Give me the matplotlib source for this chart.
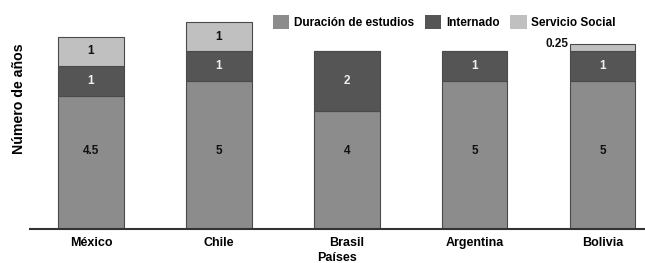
import matplotlib
matplotlib.use("Agg")
import matplotlib.pyplot as plt
import numpy as np

plt.rcParams['font.family'] = ['Liberation Sans', 'DejaVu Sans']
plt.rcParams['font.weight'] = 'bold'

countries = ["México", "Chile", "Brasil", "Argentina", "Bolivia"]
estudios = [4.5, 5, 4, 5, 5]
internado = [1, 1, 2, 1, 1]
servicio = [1, 1, 0, 0, 0.25]
series_names = ["Duración de estudios", "Internado", "Servicio Social"]
colors = ["#8c8c8c", "#555555", "#c0c0c0"]
text_colors = ["#111111", "#f0f0f0", "#111111"]

fig = plt.figure(figsize=(6.45, 2.63), dpi=100)
ax = fig.add_axes([30/645, 34/263, 1 - 30/645, 1 - 34/263])

x = np.arange(len(countries))
bottom = np.zeros(len(countries))
handles = []
for k, (vals, col, tc, name) in enumerate(zip([estudios, internado, servicio], colors, text_colors, series_names)):
    vals = np.array(vals, dtype=float)
    bars = ax.bar(x, vals, width=0.51, bottom=bottom, color=col,
                  edgecolor="#4a4a4a", linewidth=0.8, label=name)
    handles.append(bars)
    for xi, v, b in zip(x, vals, bottom):
        if v <= 0:
            continue
        lab = f"{v:g}"
        if v < 0.5:
            ax.text(xi - 0.27, b + v, lab, ha="right", va="center",
                    fontsize=8.5, fontweight="bold", color="#111111")
        elif k == 0:
            ax.text(xi, 2.65, lab, ha="center", va="center",
                    fontsize=8.5, fontweight="bold", color=tc)
        else:
            ax.text(xi, b + v / 2, lab, ha="center", va="center",
                    fontsize=8.5, fontweight="bold", color=tc)
    bottom = bottom + vals

ax.set_xlim(-0.477, 4.33)
ax.set_ylim(0, 7.74)
ax.set_xticks(x)
ax.set_xticklabels(countries, fontsize=9, fontweight="bold")
ax.tick_params(axis="x", length=0, pad=6)
ax.set_yticks([])
for s in ["top", "right", "left"]:
    ax.spines[s].set_visible(False)
ax.spines["bottom"].set_linewidth(1.5)
ax.spines["bottom"].set_color("#333333")
ax.set_xlabel("Países", fontsize=9, fontweight="bold", labelpad=2)
ax.set_ylabel("Número de años", fontsize=10.2, fontweight="bold")
ax.yaxis.set_label_coords(-4/615, 0.57)

leg = fig.legend(handles=handles, labels=series_names, loc="center left",
                 bbox_to_anchor=(268/645, 1 - 22/263), ncol=3, frameon=False,
                 fontsize=8.5, handlelength=1.4, handleheight=1.5,
                 columnspacing=0.9, handletextpad=0.4, borderaxespad=0)
for h in leg.legend_handles:
    h.set_edgecolor("none")

fig.savefig("out.png", dpi=100)
